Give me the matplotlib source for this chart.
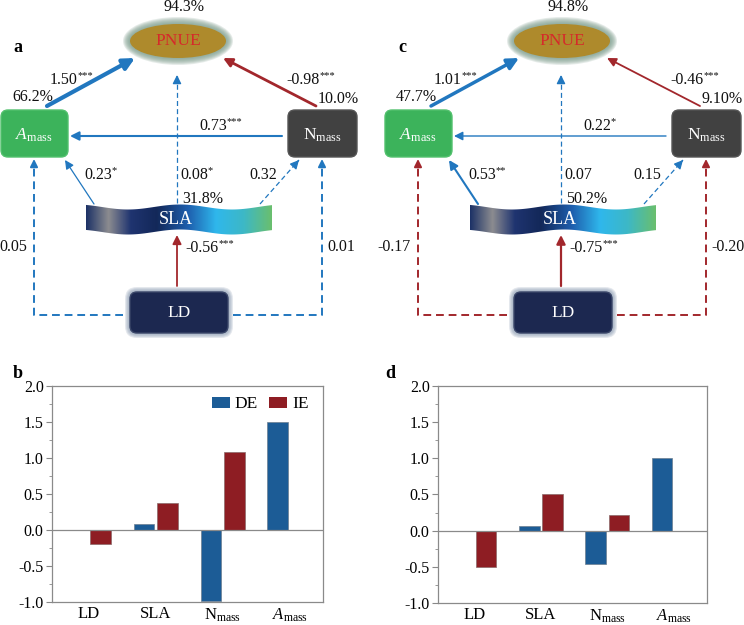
import numpy as np
import matplotlib
matplotlib.use('Agg')
import matplotlib.pyplot as plt
from matplotlib.patches import FancyBboxPatch, Ellipse, Polygon, Patch
from matplotlib.colors import LinearSegmentedColormap
from matplotlib.ticker import MultipleLocator, FormatStrFormatter

plt.rcParams['font.family'] = ['Liberation Serif', 'DejaVu Serif']
plt.rcParams['mathtext.fontset'] = 'custom'
plt.rcParams['mathtext.rm'] = 'Liberation Serif'
plt.rcParams['mathtext.it'] = 'Liberation Serif:italic'
plt.rcParams['mathtext.bf'] = 'Liberation Serif:bold'

# ---------------- data ----------------
paths = ['Amass->PNUE', 'Nmass->PNUE', 'Nmass->Amass', 'SLA->Amass', 'SLA->PNUE',
         'SLA->Nmass', 'LD->SLA', 'LD->Amass', 'LD->Nmass']
coef_a = [1.50, -0.98, 0.73, 0.23, 0.08, 0.32, -0.56, 0.05, 0.01]
sig_a = ['***', '***', '***', '*', '*', '', '***', '', '']
coef_c = [1.01, -0.46, 0.22, 0.53, 0.07, 0.15, -0.75, -0.17, -0.20]
sig_c = ['***', '***', '*', '**', '', '', '***', '', '']
dashed_a = [False, False, False, False, True, True, False, True, True]
dashed_c = [False, False, False, False, True, True, False, True, True]
lw_a = [3.0, 2.0, 1.5, 0.9, 0.9, 0.9, 1.3, 1.4, 1.4]
lw_c = [2.5, 1.3, 1.0, 1.5, 0.9, 0.9, 1.6, 1.4, 1.4]

r2_nodes = ['PNUE', 'Amass', 'Nmass', 'SLA']
r2_a = ['94.3%', '66.2%', '10.0%', '31.8%']
r2_c = ['94.8%', '47.7%', '9.10%', '50.2%']

categories = ['LD', 'SLA', r'N$_{\rm mass}$', r'$A_{\rm mass}$']
de_b = [0.0, 0.08, -0.98, 1.50]
ie_b = [-0.19, 0.38, 1.09, 0.0]
de_d = [0.0, 0.07, -0.46, 1.01]
ie_d = [-0.50, 0.50, 0.22, 0.0]

# ---------------- layout ----------------
BLUE = '#2177bf'
RED = '#a2272c'
C_DE = '#1c5c96'
C_IE = '#8e1d23'

geom = {
    'Amass->PNUE': [(47, 106), (135, 58)],
    'Nmass->PNUE': [(316, 106), (223, 58)],
    'Nmass->Amass': [(282, 136), (70, 136)],
    'SLA->Amass': [(94, 204), (65, 160)],
    'SLA->PNUE': [(177, 203), (177, 75)],
    'SLA->Nmass': [(260, 204), (299, 160)],
    'LD->SLA': [(177, 286), (177, 235)],
    'LD->Amass': [(123, 315), (34, 315), (34, 159)],
    'LD->Nmass': [(233, 315), (322, 315), (322, 159)],
}
lab_pos = {
    'Amass->PNUE': (50, 80, 'left'),
    'Nmass->PNUE': (286, 80, 'left'),
    'Nmass->Amass': (199, 126, 'left'),
    'SLA->Amass': (84, 175, 'left'),
    'SLA->PNUE': (180, 175, 'left'),
    'SLA->Nmass': (249, 175, 'left'),
    'LD->SLA': (185, 248, 'left'),
    'LD->Amass': (27, 247, 'right'),
    'LD->Nmass': (327, 247, 'left'),
}
r2_pos = {'PNUE': (184, 7, 'center'), 'Amass': (12, 97, 'left'),
          'Nmass': (318, 99, 'left'), 'SLA': (182, 199, 'left')}

FS = 11.5

fig = plt.figure(figsize=(7.44, 6.25), dpi=100)
ax = fig.add_axes([0, 0, 1, 1])
ax.set_xlim(0, 744)
ax.set_ylim(625, 0)
ax.axis('off')

sla_cmap = LinearSegmentedColormap.from_list('sla', [
    (0.0, '#1d3266'), (0.12, '#8c8c90'), (0.24, '#1f3470'), (0.38, '#132859'),
    (0.55, '#1e5fae'), (0.70, '#2fb7ec'), (0.85, '#3db8c6'), (1.0, '#6abf6e')])


def arrow(p0, p1, color, lw, dashed, ms):
    if dashed:
        ax.plot([p0[0], p1[0]], [p0[1], p1[1]], color=color, lw=lw,
                ls=(0, (4, 2.5)), zorder=3)
        v = np.subtract(p1, p0).astype(float)
        v /= np.hypot(*v)
        q = np.array(p1) - v * 6
        ax.annotate('', xy=p1, xytext=tuple(q),
                    arrowprops=dict(arrowstyle='-|>', color=color, lw=lw,
                                    mutation_scale=ms, shrinkA=0, shrinkB=0), zorder=3)
    else:
        ax.annotate('', xy=p1, xytext=p0,
                    arrowprops=dict(arrowstyle='-|>', color=color, lw=lw,
                                    mutation_scale=ms, shrinkA=0, shrinkB=0), zorder=3)


def label(x, y, main, stars, ha):
    t = ax.text(x, y, main, ha=ha, va='center', fontsize=FS, color='#111')
    if stars:
        ax.annotate(stars, xy=(1.0, 0.78), xycoords=t, fontsize=7.5,
                    ha='left', va='center', color='#111')


def rbox(x0, y0, w, h, fc, ec, glow=None):
    if glow:
        for k in range(5, 0, -1):
            ax.add_patch(FancyBboxPatch((x0 - k, y0 - k), w + 2 * k, h + 2 * k,
                                        boxstyle='round,pad=0,rounding_size=%d' % (7 + k),
                                        fc=glow, ec='none', alpha=0.22, zorder=1))
    ax.add_patch(FancyBboxPatch((x0, y0), w, h, boxstyle='round,pad=0,rounding_size=7',
                                fc=fc, ec=ec, lw=1.0, zorder=2))


def draw_panel(ox, letter, coefs, sigs, dashed, lws, r2):
    ax.text(ox + 18, 47, letter, fontsize=13, fontweight='bold', ha='center', va='center')
    # PNUE ellipse with glow
    for k in range(7, 0, -1):
        ax.add_patch(Ellipse((ox + 178, 41), 96 + 2 * k, 34 + 2 * k, fc='#7d9c8d',
                             ec='none', alpha=0.2, zorder=1))
    ax.add_patch(Ellipse((ox + 178, 41), 96, 34, fc='#ae8a2c', ec='none', zorder=2))
    ax.text(ox + 178, 41, 'PNUE', color='#d52a2a', fontsize=12.5, ha='center', va='center', zorder=4)
    # boxes
    rbox(ox + 1, 110, 67, 47, '#3cb35b', '#52c16d')
    ax.text(ox + 34, 135, r'$A_{\rm mass}$', color='white', fontsize=12.5,
            ha='center', va='center', zorder=4)
    rbox(ox + 288, 110, 69, 47, '#414141', '#555555')
    ax.text(ox + 322, 135, r'N$_{\rm mass}$', color='white', fontsize=12.5,
            ha='center', va='center', zorder=4)
    rbox(ox + 130, 292, 98, 41, '#1c2850', '#3a4668', glow='#8797b0')
    ax.text(ox + 179, 313, 'LD', color='white', fontsize=12.5, ha='center', va='center', zorder=4)
    # SLA wave with gradient
    xs = np.linspace(86, 272, 80)
    top = 207 - 2.5 * np.cos(2 * np.pi * (xs - 180) / 104)
    bot = top + 25
    poly = np.column_stack([np.r_[xs, xs[::-1]] + ox, np.r_[top, bot[::-1]]])
    clip = Polygon(poly, closed=True, fc='none', ec='none', transform=ax.transData)
    ax.add_patch(clip)
    im = ax.imshow(np.linspace(0, 1, 256)[None, :], cmap=sla_cmap, aspect='auto',
                   extent=(ox + 86, ox + 272, 236, 202), zorder=2)
    im.set_clip_path(clip)
    ax.text(ox + 176, 220, 'SLA', color='white', fontsize=13, ha='center', va='center', zorder=4)
    # paths
    for name, c, s, d, lw in zip(paths, coefs, sigs, dashed, lws):
        col = BLUE if c > 0 else RED
        pts = [(ox + x, y) for x, y in geom[name]]
        ms = 17 if lw >= 2.4 else 13
        if len(pts) == 2:
            arrow(pts[0], pts[1], col, lw, d, ms)
        else:
            xs_, ys_ = zip(*pts[:-1])
            ax.plot(list(xs_) + [pts[-1][0]], list(ys_) + [pts[-1][1] + 7], color=col,
                    lw=lw, ls=(0, (4, 2.5)), zorder=3)
            arrow((pts[-1][0], pts[-1][1] + 7), pts[-1], col, lw, False, 11)
        x, y, ha = lab_pos[name]
        label(ox + x, y, '%.2f' % c, s, ha)
    for node, txt in zip(r2_nodes, r2):
        x, y, ha = r2_pos[node]
        ax.text(ox + x, y, txt, fontsize=FS, ha=ha, va='center', color='#111')


draw_panel(0, 'a', coef_a, sig_a, dashed_a, lw_a, r2_a)
draw_panel(384, 'c', coef_c, sig_c, dashed_c, lw_c, r2_c)
ax.set_xlim(0, 744)
ax.set_ylim(625, 0)


def bars(rect, de, ie, legend):
    bx = fig.add_axes(rect)
    x = np.arange(len(categories))
    w = 0.31
    de = np.asarray(de)
    ie = np.asarray(ie)
    bx.bar(x - 0.175, de, w, color=C_DE, edgecolor=np.where(de == 0, 'none', '#6d7f90'),
           lw=0.5, label='DE', zorder=2)
    bx.bar(x + 0.175, ie, w, color=C_IE, edgecolor=np.where(ie == 0, 'none', '#8a6a6a'),
           lw=0.5, label='IE', zorder=2)
    bx.axhline(0, color='#8a8a8a', lw=0.9, zorder=3)
    bx.set_xlim(-0.55, 3.5)
    bx.set_ylim(-1.0, 2.0)
    bx.yaxis.set_major_locator(MultipleLocator(0.5))
    bx.yaxis.set_minor_locator(MultipleLocator(0.25))
    bx.yaxis.set_major_formatter(FormatStrFormatter('%.1f'))
    bx.set_xticks(x)
    bx.set_xticklabels(categories, fontsize=12)
    bx.tick_params(axis='x', length=0, pad=3)
    bx.tick_params(axis='y', which='major', length=4, direction='out', labelsize=11.5,
                   color='#888', pad=2)
    bx.tick_params(axis='y', which='minor', length=2, direction='out', color='#888')
    for sp in bx.spines.values():
        sp.set_color('#8a8a8a')
        sp.set_linewidth(0.9)
    if legend:
        bx.legend(handles=[Patch(fc=C_DE, label='DE'), Patch(fc=C_IE, label='IE')],
                  loc='upper right', ncol=2, frameon=False, fontsize=12.5,
                  handlelength=1.0, handleheight=0.55, handletextpad=0.3,
                  columnspacing=0.65, borderaxespad=0.2, bbox_to_anchor=(0.985, 1.0))
    return bx


bars([52 / 744, 23 / 625, 271 / 744, 216 / 625], de_b, ie_b, True)
bars([438 / 744, 22 / 625, 269 / 744, 217 / 625], de_d, ie_d, False)
fig.text(18 / 744, 1 - 373 / 625, 'b', fontsize=13, fontweight='bold', ha='center', va='center')
fig.text(390 / 744, 1 - 373 / 625, 'd', fontsize=13, fontweight='bold', ha='center', va='center')

fig.savefig('out.png', dpi=100)
